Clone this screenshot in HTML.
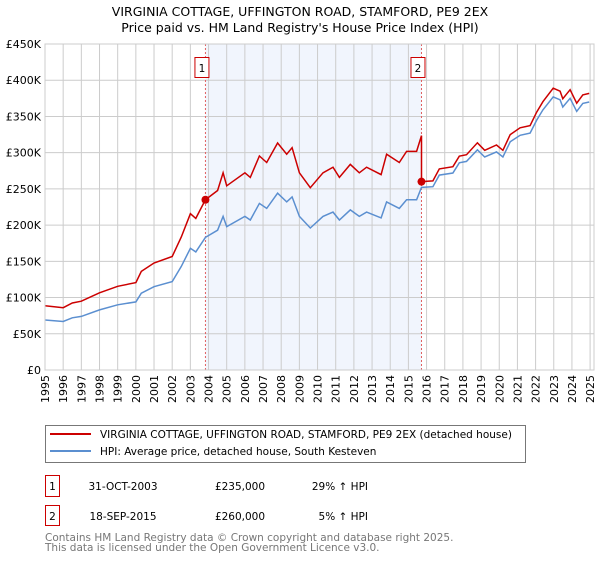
<!DOCTYPE html>
<html><head><meta charset="utf-8"><style>
body{margin:0;background:#fff;font-family:"DejaVu Sans","Liberation Sans",sans-serif;}
svg text{font-family:"DejaVu Sans","Liberation Sans",sans-serif;}
</style></head><body>
<svg id="chart" width="600" height="560" viewBox="0 0 600 560" xmlns="http://www.w3.org/2000/svg">
<text x="300" y="16" text-anchor="middle" font-size="12.5" fill="#000">VIRGINIA COTTAGE, UFFINGTON ROAD, STAMFORD, PE9 2EX</text>
<text x="300" y="32" text-anchor="middle" font-size="12.5" fill="#000">Price paid vs. HM Land Registry's House Price Index (HPI)</text>
<g id="plot"></g>
<rect x="45.5" y="425.5" width="480" height="37" fill="#fff" stroke="#777"/>
<line x1="50" y1="434" x2="91" y2="434" stroke="#cc0000" stroke-width="2"/>
<text x="100" y="438" font-size="10.5">VIRGINIA COTTAGE, UFFINGTON ROAD, STAMFORD, PE9 2EX (detached house)</text>
<line x1="50" y1="451" x2="91" y2="451" stroke="#5b8fd0" stroke-width="2"/>
<text x="100" y="455" font-size="10.5">HPI: Average price, detached house, South Kesteven</text>
<g font-size="10.5">
<rect x="45.5" y="475.5" width="14" height="21" fill="#fff" stroke="#cc0000"/>
<text x="52.5" y="490" text-anchor="middle">1</text>
<text x="123" y="490" text-anchor="middle">31-OCT-2003</text>
<text x="240" y="490" text-anchor="middle">£235,000</text>
<text x="368" y="490" text-anchor="end">29% ↑ HPI</text>
</g>
<g font-size="10.5">
<rect x="45.5" y="505.5" width="14" height="20" fill="#fff" stroke="#cc0000"/>
<text x="52.5" y="520" text-anchor="middle">2</text>
<text x="123" y="520" text-anchor="middle">18-SEP-2015</text>
<text x="240" y="520" text-anchor="middle">£260,000</text>
<text x="368" y="520" text-anchor="end">5% ↑ HPI</text>
</g>
<text x="45" y="541" font-size="10.5" fill="#777">Contains HM Land Registry data © Crown copyright and database right 2025.</text>
<text x="45" y="551" font-size="10.5" fill="#777">This data is licensed under the Open Government Licence v3.0.</text>
</svg>
<script>
const hpiYears=[1995,1996,1996.5,1997,1998,1999,2000,2000.3,2001,2002,2002.5,2003,2003.3,2003.83,2004.5,2004.8,2005,2006,2006.3,2006.8,2007.2,2007.8,2008.3,2008.6,2009,2009.6,2010.3,2010.85,2011.2,2011.8,2012.3,2012.7,2013.5,2013.8,2014.5,2014.9,2015.45,2015.72,2016.35,2016.7,2017.45,2017.8,2018.2,2018.8,2019.2,2019.85,2020.2,2020.6,2021.15,2021.7,2022.06,2022.4,2022.97,2023.35,2023.5,2023.9,2024.26,2024.6,2024.95];
const hpiValues=[69,67,72,74,83,90,94,106,115,122,143,168,163,183,193,212,198,212,207,230,223,244,232,239,212,196,212,218,207,221,212,218,210,232,223,235,235,252,253,269,272,286,288,304,294,301,294,315,324,327,345,359,377,373,363,375,357,368,370];
const saleDates=[2003.83,2015.72];
const salePrices=[235,260];
const yTicks=[0,50,100,150,200,250,300,350,400,450];
const yTickLabels=["£0","£50K","£100K","£150K","£200K","£250K","£300K","£350K","£400K","£450K"];
const xTicks=[1995,1996,1997,1998,1999,2000,2001,2002,2003,2004,2005,2006,2007,2008,2009,2010,2011,2012,2013,2014,2015,2016,2017,2018,2019,2020,2021,2022,2023,2024,2025];

const X0=45,X1=594,Y0=370,Y1=44;
const xs=t=>X0+(t-1995)*18.17;
const ys=v=>Y0-v/450*(Y0-Y1);
const NS="http://www.w3.org/2000/svg";
const g=document.getElementById('plot');
function mk(tag,attrs){const e=document.createElementNS(NS,tag);for(const k in attrs)e.setAttribute(k,attrs[k]);g.appendChild(e);return e;}
function hpiAt(t){for(let i=0;i<hpiYears.length-1;i++){if(t>=hpiYears[i]&&t<=hpiYears[i+1]){const f=(t-hpiYears[i])/(hpiYears[i+1]-hpiYears[i]);return hpiValues[i]+f*(hpiValues[i+1]-hpiValues[i]);}}return hpiValues[hpiValues.length-1];}

const bg=mk('rect',{x:X0,y:Y1,width:X1-X0,height:Y0-Y1,fill:'#fff'});


const sh=mk('rect',{x:xs(saleDates[0]),y:Y1,width:xs(saleDates[1])-xs(saleDates[0]),height:Y0-Y1,fill:'#eef3fd',opacity:0.8});


xTicks.forEach(t=>{
 const l=mk('line',{x1:xs(t),x2:xs(t),y1:Y1,y2:Y0,stroke:'#cccccc','stroke-width':1});
 
 
 const tx=mk('text',{x:0,y:0,'font-size':11,'text-anchor':'end',transform:`translate(${xs(t)+4},${Y0+5}) rotate(-90)`});
 tx.textContent=t;
 
 
});
yTicks.forEach((v,i)=>{
 const l=mk('line',{x1:X0,x2:X1,y1:ys(v),y2:ys(v),stroke:'#cccccc','stroke-width':1});
 
 
 const tx=mk('text',{x:X0-4,y:ys(v)+4,'font-size':11,'text-anchor':'end'});
 tx.textContent=yTickLabels[i];
 
 
});
saleDates.forEach((d,i)=>{
 const l=mk('line',{x1:xs(d),x2:xs(d),y1:Y1,y2:Y0,stroke:'#e06060','stroke-width':1,'stroke-dasharray':'2,2'});
 
 
 const bx=mk('rect',{x:xs(d)-10.5,y:57.5,width:14,height:20,fill:'#fff',stroke:'#cc0000'});
 
 
 const tx=mk('text',{x:xs(d)-3.5,y:72,'font-size':10.5,'text-anchor':'middle'});
 tx.textContent=i+1;
 
 
});
// red series: HPI indexed from most recent sale
const h1=hpiAt(saleDates[0]),h2=hpiAt(saleDates[1]);
let hp='',rp='';
hpiYears.forEach((t,i)=>{
 hp+=(i?'L':'M')+xs(t).toFixed(1)+','+ys(hpiValues[i]).toFixed(1);
});
let pts=[];
hpiYears.forEach((t,i)=>{
 if(t<saleDates[1]) pts.push([t,hpiValues[i]*salePrices[0]/h1]);
});
pts.push([saleDates[1],h2*salePrices[0]/h1]);
pts.push([saleDates[1],salePrices[1]]);
hpiYears.forEach((t,i)=>{ if(t>saleDates[1]) pts.push([t,hpiValues[i]*salePrices[1]/h2]); });
pts.forEach((p,i)=>{rp+=(i?'L':'M')+xs(p[0]).toFixed(1)+','+ys(p[1]).toFixed(1);});
const hl=mk('path',{d:hp,fill:'none',stroke:'#5b8fd0','stroke-width':1.5});


const rl=mk('path',{d:rp,fill:'none',stroke:'#cc0000','stroke-width':1.5});


saleDates.forEach((d,i)=>{
 const c=mk('circle',{cx:xs(d),cy:ys(salePrices[i]),r:4,fill:'#cc0000'});
 
 
});
const ax=mk('rect',{x:X0,y:Y1,width:X1-X0,height:Y0-Y1,fill:'none',stroke:'#cccccc'});


</script>
</body></html>
